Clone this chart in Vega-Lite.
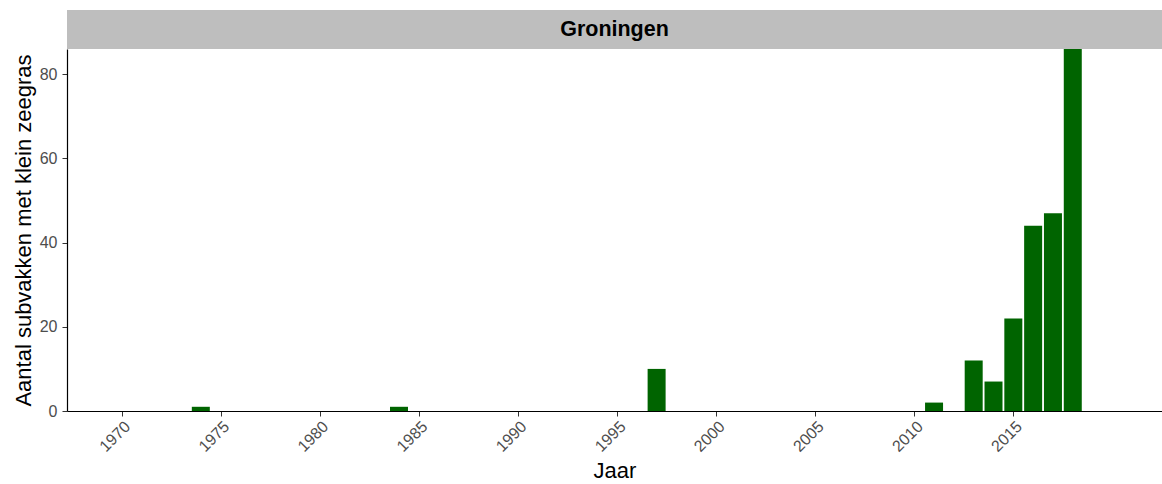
{
  "$schema": "https://vega.github.io/schema/vega-lite/v6.json",
  "padding": {"left": 12, "top": 10, "right": 0, "bottom": 0},
  "background": "white",
  "config": {
    "view": {"stroke": null},
    "font": "Liberation Sans",
    "concat": {"spacing": 0}
  },
  "datasets": {
    "strip": [{"panel": "Groningen"}],
    "bars": [
      {"Jaar": 1974, "Aantal": 1},
      {"Jaar": 1984, "Aantal": 1},
      {"Jaar": 1997, "Aantal": 10},
      {"Jaar": 2011, "Aantal": 2},
      {"Jaar": 2013, "Aantal": 12},
      {"Jaar": 2014, "Aantal": 7},
      {"Jaar": 2015, "Aantal": 22},
      {"Jaar": 2016, "Aantal": 44},
      {"Jaar": 2017, "Aantal": 47},
      {"Jaar": 2018, "Aantal": 86}
    ]
  },
  "vconcat": [
    {
      "width": 1095,
      "height": 39,
      "data": {"name": "strip"},
      "layer": [
        {
          "mark": {"type": "rect", "fill": "#bebebe"},
          "encoding": {
            "x": {"field": "panel", "type": "nominal", "axis": null, "scale": {"paddingInner": 0, "paddingOuter": 0}}
          }
        },
        {
          "mark": {"type": "text", "fontSize": 21.5, "fontWeight": "bold", "color": "black", "baseline": "middle", "align": "center", "font": "Liberation Sans"},
          "encoding": {
            "x": {"field": "panel", "type": "nominal", "axis": null},
            "text": {"field": "panel"}
          }
        }
      ]
    },
    {
      "width": 1095,
      "height": 362,
      "data": {"name": "bars"},
      "mark": {"type": "bar", "color": "#006400", "size": 18},
      "encoding": {
        "x": {
          "field": "Jaar", "type": "quantitative",
          "scale": {"domain": [1967.5, 2022.25], "nice": false, "zero": false},
          "axis": {
            "values": [1970, 1975, 1980, 1985, 1990, 1995, 2000, 2005, 2010, 2015],
            "format": "d", "grid": false, "labelAngle": -45, "labelAlign": "right", "labelBaseline": "top",
            "labelFontSize": 16, "labelColor": "#4d4d4d", "labelPadding": 2,
            "domainColor": "black", "domainWidth": 1.2, "tickColor": "#333333", "tickSize": 5,
            "title": "Jaar", "titleFontSize": 22, "titleFontWeight": "normal", "titleColor": "black", "titlePadding": 6
          }
        },
        "y": {
          "field": "Aantal", "type": "quantitative",
          "scale": {"domain": [0, 86], "nice": false},
          "axis": {
            "values": [0, 20, 40, 60, 80], "grid": false,
            "labelFontSize": 16, "labelColor": "#4d4d4d", "labelPadding": 5,
            "domainColor": "black", "domainWidth": 1.2, "tickColor": "#333333", "tickSize": 5,
            "title": "Aantal subvakken met klein zeegras", "titleFontSize": 22, "titleFontWeight": "normal", "titleColor": "black", "titlePadding": 4
          }
        }
      }
    }
  ]
}
